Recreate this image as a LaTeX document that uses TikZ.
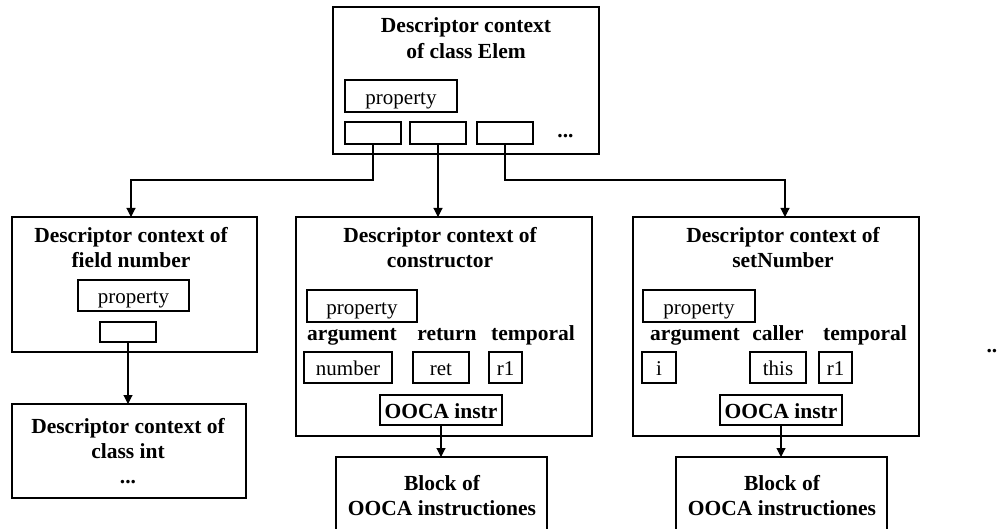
\documentclass[tikz,border=0pt]{standalone}
\usepackage{fontspec}
\setmainfont{Liberation Serif}
\usetikzlibrary{arrows.meta}
\begin{document}
\begin{tikzpicture}[x=1pt,y=-1pt,
  frame/.style={draw, line width=1.1pt, inner sep=0pt, outer sep=0pt},
  slot/.style={draw, line width=1.1pt, inner sep=0pt, outer sep=0pt,
    text height=16.5pt, text depth=0pt, font=\fontsize{21}{25}\selectfont},
  bslot/.style={slot, font=\fontsize{21.5}{25}\selectfont\bfseries},
  head/.style={anchor=base, inner sep=0pt, font=\fontsize{21.5}{25}\selectfont\bfseries},
  conn/.style={line width=1.1pt, -{Triangle[length=9pt,width=9pt]}}
]
\clip (0,0) rectangle (998,529);
\fill[white] (0,0) rectangle (998,529);

% ---- class Elem ----
\node[frame, minimum width=266pt, minimum height=147pt] (elem) at (466,80.5) {};
\node[head] (elemT1) at (466,33) {Descriptor context};
\node[head] (elemT2) at (466,59) {of class Elem};
\node[slot, minimum width=112pt, minimum height=32pt] (elemP) at (401,96) {property};
\node[slot, minimum width=56pt, minimum height=22pt] (s1) at (373,133) {};
\node[slot, minimum width=56pt, minimum height=22pt] (s2) at (438,133) {};
\node[slot, minimum width=56pt, minimum height=22pt] (s3) at (505,133) {};
\node[head] (elemDots) at (565.5,138) {...};

% ---- field number ----
\node[frame, minimum width=245pt, minimum height=135pt] (field) at (134.5,284.5) {};
\node[head] (fieldT1) at (131,243) {Descriptor context of};
\node[head] (fieldT2) at (131,268) {field number};
\node[slot, minimum width=111pt, minimum height=31pt] (fieldP) at (133.5,295.5) {property};
\node[slot, minimum width=56pt, minimum height=20pt] (fs) at (128,332) {};

% ---- class int ----
\node[frame, minimum width=234pt, minimum height=94pt] (cint) at (129,451) {};
\node[head] (cintT1) at (128,433) {Descriptor context of};
\node[head] (cintT2) at (128,458) {class int};
\node[head] (cintT3) at (128,483) {...};

% ---- constructor ----
\node[frame, minimum width=296pt, minimum height=219pt] (ctor) at (444,326.5) {};
\node[head] (ctorT1) at (440,243) {Descriptor context of};
\node[head] (ctorT2) at (440,268) {constructor};
\node[slot, minimum width=110pt, minimum height=32pt] (ctorP) at (362,306) {property};
\node[head] (ctorA) at (352,340) {argument};
\node[head] (ctorR) at (447,340) {return};
\node[head] (ctorTm) at (533,340) {temporal};
\node[slot, minimum width=88pt, minimum height=31pt] (ctorV1) at (348,367.5) {number};
\node[slot, minimum width=56pt, minimum height=31pt] (ctorV2) at (441,367.5) {ret};
\node[slot, minimum width=33pt, minimum height=31pt] (ctorV3) at (505.5,367.5) {r1};
\node[bslot, minimum width=122pt, minimum height=30pt] (ctorI) at (441,410) {OOCA instr};
\node[frame, minimum width=211pt, minimum height=78pt] (ctorB) at (441.5,496) {};
\node[head] (ctorB1) at (442,490) {Block of};
\node[head] (ctorB2) at (442,515) {OOCA instructiones};

% ---- setNumber ----
\node[frame, minimum width=286pt, minimum height=219pt] (setn) at (776,326.5) {};
\node[head] (setnT1) at (783,243) {Descriptor context of};
\node[head] (setnT2) at (783,268) {setNumber};
\node[slot, minimum width=112pt, minimum height=32pt] (setnP) at (699,306) {property};
\node[head] (setnA) at (695,340) {argument};
\node[head] (setnC) at (778,340) {caller};
\node[head] (setnTm) at (865,340) {temporal};
\node[slot, minimum width=34pt, minimum height=31pt] (setnV1) at (659,367.5) {i};
\node[slot, minimum width=56pt, minimum height=31pt] (setnV2) at (778,367.5) {this};
\node[slot, minimum width=33pt, minimum height=31pt] (setnV3) at (835.5,367.5) {r1};
\node[bslot, minimum width=122pt, minimum height=30pt] (setnI) at (781,410) {OOCA instr};
\node[frame, minimum width=211pt, minimum height=78pt] (setnB) at (781.5,496) {};
\node[head] (setnB1) at (782,490) {Block of};
\node[head] (setnB2) at (782,515) {OOCA instructiones};

% ---- further contexts ----
\node[head, anchor=base east] (more) at (997.5,352) {..};

% ---- connectors ----
\draw[conn] (s1.south) -- ++(0,36) -| ([xshift=-3.5pt]field.north);
\draw[conn] (s2.south) -- (s2.south |- ctor.north);
\draw[conn] (s3.south) -- ++(0,36) -| ([xshift=9pt]setn.north);
\draw[conn] (fs.south) -- (fs.south |- cint.north);
\draw[conn] (ctorI.south) -- (ctorI.south |- ctorB.north);
\draw[conn] (setnI.south) -- (setnI.south |- setnB.north);
\end{tikzpicture}
\end{document}
